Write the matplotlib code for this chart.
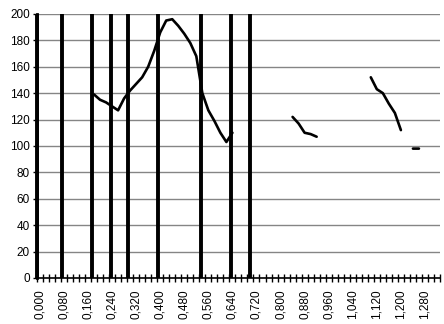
import numpy as np
import matplotlib
matplotlib.use("Agg")
import matplotlib.pyplot as plt

# category axis: 0,000 .. 1,320 in steps of 0,02
step = 0.02
n_cat = 67
label_every = 4

# measured curve, gaps where nothing was drawn
curve = {
    9: 139, 10: 135, 11: 133, 12: 130, 13: 127, 14: 136, 15: 142,
    16: 147, 17: 152, 18: 160, 19: 172, 20: 186, 21: 195, 22: 196,
    23: 191, 24: 185, 25: 178, 26: 168, 27: 140, 28: 127, 29: 119,
    30: 110, 31: 103, 32: 110,
    42: 122, 43: 117, 44: 110, 45: 109, 46: 107,
    55: 152, 56: 143, 57: 140, 58: 132, 59: 125, 60: 112,
    62: 98, 63: 98,
}

# thick vertical marks, in category units
spike_pos = [-0.4, 3.7, 8.7, 11.8, 14.7, 19.7, 26.8, 31.8, 34.9]

y_max = 200
y_step = 20

idx = np.arange(n_cat)
vals = np.array([curve.get(i, np.nan) for i in idx], dtype=float)

plt.rcParams['font.family'] = ['Liberation Sans', 'DejaVu Sans']

fig = plt.figure(figsize=(4.44, 3.24), dpi=100, facecolor='white')
ax = fig.add_axes([0.083, 0.142, 0.908, 0.815])

ax.set_xlim(-0.5, n_cat - 0.5)
ax.set_ylim(0, y_max)

# grid
ax.set_yticks(np.arange(0, y_max + 1, y_step))
ax.yaxis.grid(True, color='#858585', linewidth=1.0)
ax.set_axisbelow(True)

ax.vlines(spike_pos, 0, y_max, color='black', linewidth=2.8, zorder=3,
          clip_on=False)
ax.plot(idx, vals, color='black', linewidth=1.9, zorder=4,
        solid_capstyle='round', solid_joinstyle='round')

# x ticks: labels every 4 categories, cross ticks at boundaries
lab_idx = idx[::label_every]
ax.set_xticks(lab_idx)
ax.set_xticklabels([f"{i * step:.3f}".replace('.', ',') for i in lab_idx],
                   rotation=90, fontsize=8.5)
ax.tick_params(axis='x', which='major', length=0, pad=8)
ax.set_xticks(np.arange(-0.5, n_cat, 1), minor=True)
ax.tick_params(axis='x', which='minor', direction='inout', length=6,
               width=1.0, color='black')
ax.tick_params(axis='y', direction='out', length=3, width=1.0,
               labelsize=8.5, pad=2)

for s in ['top', 'right']:
    ax.spines[s].set_visible(False)
ax.spines['bottom'].set_linewidth(1.2)
ax.spines['left'].set_linewidth(2.0)

fig.savefig('out.png', dpi=100, facecolor='white')
